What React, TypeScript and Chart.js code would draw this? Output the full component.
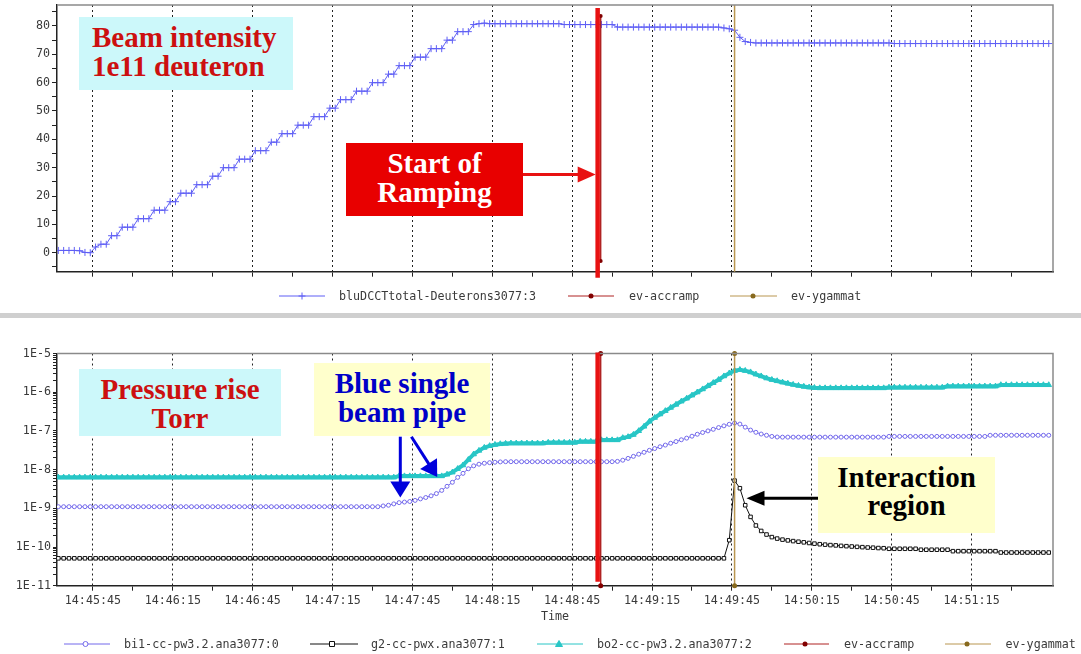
import React, { useEffect, useRef } from 'react';
import { Chart, registerables } from 'chart.js';

Chart.register(...registerables);

// ---------- time axis (seconds after 14:45:15) ----------
const T_START = 17;
const T_STEP = 2;
const X_MIN = 16.5;
const X_MAX = 390.6;
const X_TICK_FIRST = 30;
const X_TICK_SPACING = 30;
const X_TICK_LABELS = ['14:45:45', '14:46:15', '14:46:45', '14:47:15', '14:47:45', '14:48:15', '14:48:45', '14:49:15', '14:49:45', '14:50:15', '14:50:45', '14:51:15'];

// ---------- top chart: beam intensity (1e11 deuterons) ----------
const Y_TOP_MIN = -6.7;
const Y_TOP_MAX = 87.4;
const Y_TOP_TICKS = [-5, 0, 5, 10, 15, 20, 25, 30, 35, 40, 45, 50, 55, 60, 65, 70, 75, 80, 85];
const Y_TOP_LABELS = ['0', '10', '20', '30', '40', '50', '60', '70', '80'];

const BEAM_INTENSITY = [
  0.8, 0.8, 0.8, 0.8, 0.7, 0.1, 0.0,
  2, 3, 3, 6, 6, 9, 9, 9, 12, 12, 12, 15, 15, 15, 18, 18, 21, 21, 21, 24, 24, 24, 27, 27,
  30, 30, 30, 33, 33, 33, 36, 36, 36, 39, 39, 42, 42, 42, 45, 45, 45, 48, 48, 48, 51, 51,
  54, 54, 54, 57, 57, 57, 60, 60, 60, 63, 63, 66, 66, 66, 69, 69, 69, 72, 72, 72, 75, 75,
  78, 78, 78, 80.5, 80.8,
  81.0,
  80.8, 80.8, 80.8, 80.8, 80.8, 80.8, 80.8, 80.8, 80.8, 80.8, 80.8, 80.8, 80.8, 80.8,
  80.5, 80.5, 80.5, 80.5, 80.5, 80.5, 80.5, 80.5, 80.5, 80.5,
  79.6, 79.6, 79.6, 79.6, 79.6, 79.6, 79.6, 79.6, 79.6, 79.6,
  79.6, 79.6, 79.6, 79.6, 79.6, 79.6, 79.6, 79.6, 79.6, 79.6,
  79.3, 79.0, 78.5, 76.0, 74.5, 74.2,
  74.0, 74.0, 74.0, 74.0, 74.0, 74.0, 74.0, 74.0, 74.0, 74.0, 74.0, 74.0, 74.0,
  74.0, 74.0, 74.0, 74.0, 74.0, 74.0, 74.0, 74.0, 74.0, 74.0, 74.0, 74.0, 74.0,
  73.8, 73.8, 73.8, 73.8, 73.8, 73.8, 73.8, 73.8, 73.8, 73.8,
  73.8, 73.8, 73.8, 73.8, 73.8, 73.8, 73.8, 73.8, 73.8, 73.8,
  73.8, 73.8, 73.8, 73.8, 73.8, 73.8, 73.8, 73.8, 73.8, 73.8,
];

// ---------- bottom chart: pressures, in nTorr (1e-9 Torr) ----------
const Y_LOG_LABELS = ['1E-11', '1E-10', '1E-9', '1E-8', '1E-7', '1E-6', '1E-5'];
const Y_LOG_MIN_EXP = -11;
const Y_LOG_MAX_EXP = -5;
const NTORR = 1e-9;

const BI1_NTORR = [
  1.1, 1.1, 1.1, 1.1, 1.1, 1.1, 1.1, 1.1, 1.1, 1.1, 1.1, 1.1, 1.1, 1.1, 1.1, 1.1, 1.1, 1.1, 1.1, 1.1,
  1.1, 1.1, 1.1, 1.1, 1.1, 1.1, 1.1, 1.1, 1.1, 1.1, 1.1, 1.1, 1.1, 1.1, 1.1, 1.1, 1.1, 1.1, 1.1, 1.1,
  1.1, 1.1, 1.1, 1.1, 1.1, 1.1, 1.1, 1.1, 1.1, 1.1, 1.1, 1.1, 1.1, 1.1, 1.1, 1.1, 1.1, 1.1, 1.1, 1.1,
  1.1,
  1.15, 1.2, 1.3, 1.4, 1.45, 1.5, 1.6, 1.75, 1.9, 2.1, 2.4, 2.9, 3.7, 4.7, 6.3, 8.0, 10.5, 12.5, 13.8, 14.6,
  15.1, 15.5, 15.8,
  16, 16, 16, 16, 16, 16, 16, 16, 16, 16, 16, 16, 16, 16, 16, 16, 16, 16, 16, 16, 16,
  16.3, 17.5, 19.5, 22, 25, 28, 31.5, 35, 39, 43, 48, 53, 59, 65, 73, 82, 91, 100, 110, 122,
  135, 148, 160, 150, 125, 105, 92, 83, 77, 72, 69.5,
  69, 69, 69, 69, 69, 69, 69, 69, 69, 69, 69, 69, 69, 69, 69, 69, 69, 69, 69, 69,
  72, 72, 72, 72, 72, 72, 72, 72, 72, 72, 72, 72, 72, 72, 72, 72, 72, 72, 72,
  77, 77, 77, 77, 77, 77, 77, 77, 77, 77, 77, 77,
];

const G2_NTORR = [
  0.051, 0.051, 0.051, 0.051, 0.051, 0.051, 0.051, 0.051, 0.051, 0.051, 0.051, 0.051, 0.051, 0.051, 0.051, 0.051, 0.051, 0.051,
  0.051, 0.051, 0.051, 0.051, 0.051, 0.051, 0.051, 0.051, 0.051, 0.051, 0.051, 0.051, 0.051, 0.051, 0.051, 0.051, 0.051, 0.051,
  0.051, 0.051, 0.051, 0.051, 0.051, 0.051, 0.051, 0.051, 0.051, 0.051, 0.051, 0.051, 0.051, 0.051, 0.051, 0.051, 0.051, 0.051,
  0.051, 0.051, 0.051, 0.051, 0.051, 0.051, 0.051, 0.051, 0.051, 0.051, 0.051, 0.051, 0.051, 0.051, 0.051, 0.051, 0.051, 0.051,
  0.051, 0.051, 0.051, 0.051, 0.051, 0.051, 0.051, 0.051, 0.051, 0.051, 0.051, 0.051, 0.051, 0.051, 0.051, 0.051, 0.051, 0.051,
  0.051, 0.051, 0.051, 0.051, 0.051, 0.051, 0.051, 0.051, 0.051, 0.051, 0.051, 0.051, 0.051, 0.051, 0.051, 0.051, 0.051, 0.051,
  0.051, 0.051, 0.051, 0.051, 0.051, 0.051, 0.051, 0.051, 0.051, 0.051, 0.051, 0.051, 0.051, 0.051, 0.051, 0.051, 0.051, 0.051,
  0.15, 5.2, 3.3, 1.2, 0.6, 0.36, 0.26, 0.21, 0.18, 0.165, 0.155, 0.148, 0.142, 0.137, 0.132,
  0.127, 0.122, 0.118, 0.115, 0.112, 0.11, 0.107, 0.105, 0.103, 0.101, 0.099, 0.097, 0.096, 0.094, 0.093,
  0.09, 0.09, 0.09, 0.09, 0.09, 0.09,
  0.085, 0.085, 0.085, 0.085, 0.085, 0.085,
  0.078, 0.078, 0.078, 0.078, 0.078, 0.078, 0.078, 0.078, 0.078,
  0.072, 0.072, 0.072, 0.072, 0.072, 0.072, 0.072, 0.072, 0.072, 0.072,
];

const BO2_NTORR = [
  6.3, 6.3, 6.3, 6.3, 6.3, 6.3, 6.3, 6.3, 6.3, 6.3, 6.3, 6.3, 6.3, 6.3, 6.3, 6.3,
  6.3, 6.3, 6.3, 6.3, 6.3, 6.3, 6.3, 6.3, 6.3, 6.3, 6.3, 6.3, 6.3, 6.3, 6.3, 6.3,
  6.3, 6.3, 6.3, 6.3, 6.3, 6.3, 6.3, 6.3, 6.3, 6.3, 6.3, 6.3, 6.3, 6.3, 6.3, 6.3,
  6.3, 6.3, 6.3, 6.3, 6.3, 6.3, 6.3, 6.3, 6.3, 6.3, 6.3, 6.3, 6.3, 6.3, 6.3, 6.3,
  6.8, 6.8, 6.8, 6.8, 6.8, 6.8, 6.8, 6.8, 6.8,
  7.5, 8.5, 10.5, 13, 18, 25, 31, 37, 41, 44, 46, 47,
  48, 48, 48, 48, 48, 48, 48,
  50, 50, 50, 50, 50, 50,
  53, 53, 53, 53,
  58, 58, 58, 58,
  66, 70, 80, 100, 130, 175, 220, 270, 330, 400, 480, 580, 690, 830, 1000, 1200, 1450, 1750, 2100,
  2600, 3100, 3600, 3800, 3600, 3300, 2900, 2600, 2300, 2100, 1950, 1800, 1680, 1570, 1480, 1400, 1340, 1300,
  1280, 1280, 1280, 1280, 1280, 1280, 1280, 1280, 1280, 1280, 1280, 1280, 1280,
  1330, 1330, 1330, 1330, 1330, 1330, 1330, 1330, 1330, 1330, 1330,
  1420, 1420, 1420, 1420, 1420, 1420, 1420, 1420, 1420, 1420,
  1540, 1540, 1540, 1540, 1540, 1540, 1540, 1540, 1540, 1540,
];

// ---------- events ----------
const ACCRAMP_TIME = 220.7; // 14:48:55.7
const YGAMMAT_TIME = 271.0; // 14:49:46
const TOP_ACCRAMP_Y = [83.5, -2.9];
const TOP_YGAMMAT_Y = [95, -15];
const BOT_EVENT_Y = [1e-5, 1e-11];

// ---------- styles ----------
const MONO = { family: "'DejaVu Sans Mono', monospace", size: 11.7 };
const AXIS_COLOR = '#222';
const TEXT_COLOR = '#3a3a3a';
const DCCT_COLOR = 'rgb(95,95,245)';
const BI1_COLOR = 'rgb(115,105,235)';
const G2_COLOR = '#111';
const BO2_COLOR = 'rgb(40,198,198)';
const ACC_LINE = 'rgb(175,35,35)';
const ACC_DOT = 'rgb(130,0,0)';
const YG_LINE = 'rgb(185,150,80)';
const YG_DOT = 'rgb(135,105,30)';
const THICK_RED = 'rgb(232,18,18)';

const times = BEAM_INTENSITY.map((_, i) => T_START + i * T_STEP);
const toPoints = (vals: number[], scale = 1) => vals.map((v, i) => ({ x: times[i], y: v * scale }));

const isMajorX = (v: number) => Math.abs(((v - X_TICK_FIRST) % X_TICK_SPACING)) < 1e-9;
const X_TICK_VALUES: number[] = [];
X_TICK_LABELS.forEach((_, k) => {
  X_TICK_VALUES.push(X_TICK_FIRST + k * X_TICK_SPACING);
  X_TICK_VALUES.push(X_TICK_FIRST + k * X_TICK_SPACING + X_TICK_SPACING / 2);
});

const LOG_TICKS: number[] = [];
for (let e = Y_LOG_MIN_EXP; e < Y_LOG_MAX_EXP; e++) {
  for (let m = 1; m <= 9; m++) LOG_TICKS.push(m * Math.pow(10, e));
}
LOG_TICKS.push(Math.pow(10, Y_LOG_MAX_EXP));

function xScale(showLabels: boolean, height: number, title: string | null) {
  return {
    type: 'linear',
    min: X_MIN,
    max: X_MAX,
    afterBuildTicks: (scale: any) => {
      scale.ticks = X_TICK_VALUES.map((v) => ({ value: v }));
    },
    afterFit: (scale: any) => {
      scale.height = height;
      scale.paddingLeft = 0;
      scale.paddingRight = 0;
    },
    ticks: {
      display: showLabels,
      autoSkip: false,
      maxRotation: 0,
      minRotation: 0,
      padding: 3,
      font: MONO,
      color: TEXT_COLOR,
      callback: (v: number) => (isMajorX(v) ? X_TICK_LABELS[Math.round((v - X_TICK_FIRST) / X_TICK_SPACING)] : ''),
    },
    grid: {
      color: (ctx: any) => (ctx.tick && isMajorX(ctx.tick.value) ? AXIS_COLOR : 'rgba(0,0,0,0)'),
      tickColor: AXIS_COLOR,
      tickLength: 5,
      lineWidth: 1,
    },
    border: { color: AXIS_COLOR, width: 1.5, dash: [2, 3] },
    title: title
      ? { display: true, text: title, font: MONO, color: TEXT_COLOR, padding: { top: 0, bottom: 4 } }
      : { display: false },
  };
}

type LegendSpec = { ds: number; x1: number; x2: number; mx: number; tx: number; marker: string; line: string; stroke: string; fill: string };

function drawMarker(ctx: CanvasRenderingContext2D, kind: string, x: number, y: number, stroke: string, fill: string) {
  ctx.save();
  ctx.lineWidth = 1;
  ctx.strokeStyle = stroke;
  ctx.fillStyle = fill;
  ctx.beginPath();
  if (kind === 'cross') {
    ctx.moveTo(x - 3.5, y); ctx.lineTo(x + 3.5, y);
    ctx.moveTo(x, y - 3.5); ctx.lineTo(x, y + 3.5);
    ctx.stroke();
  } else if (kind === 'circle') {
    ctx.arc(x, y, 2.5, 0, Math.PI * 2);
    ctx.fill(); ctx.stroke();
  } else if (kind === 'rect') {
    ctx.rect(x - 2.5, y - 2.5, 5, 5);
    ctx.fill(); ctx.stroke();
  } else if (kind === 'triangle') {
    ctx.moveTo(x, y - 3.5); ctx.lineTo(x + 3.5, y + 2.5); ctx.lineTo(x - 3.5, y + 2.5); ctx.closePath();
    ctx.fill(); ctx.stroke();
  } else {
    ctx.arc(x, y, 2.5, 0, Math.PI * 2);
    ctx.fill();
  }
  ctx.restore();
}

function drawArrow(ctx: CanvasRenderingContext2D, x1: number, y1: number, x2: number, y2: number, head: number, half: number, color: string, lw: number) {
  const dx = x2 - x1, dy = y2 - y1;
  const len = Math.hypot(dx, dy);
  const ux = dx / len, uy = dy / len;
  const bx = x2 - ux * head, by = y2 - uy * head;
  ctx.save();
  ctx.strokeStyle = color;
  ctx.fillStyle = color;
  ctx.lineWidth = lw;
  ctx.beginPath();
  ctx.moveTo(x1, y1);
  ctx.lineTo(bx + ux * 1, by + uy * 1);
  ctx.stroke();
  ctx.beginPath();
  ctx.moveTo(x2, y2);
  ctx.lineTo(bx - uy * half, by + ux * half);
  ctx.lineTo(bx + uy * half, by - ux * half);
  ctx.closePath();
  ctx.fill();
  ctx.restore();
}

function decorPlugin(legend: LegendSpec[], legendY: number, redTop: number, redBottom: number, arrows: (chart: any, ctx: CanvasRenderingContext2D) => void) {
  return {
    id: 'decor',
    afterDraw(chart: any) {
      const { ctx, chartArea } = chart;
      const xs = chart.scales.x;
      ctx.save();
      // top & right frame
      ctx.strokeStyle = '#8a8a8a';
      ctx.lineWidth = 1.5;
      ctx.beginPath();
      ctx.moveTo(chartArea.left, chartArea.top);
      ctx.lineTo(chartArea.right, chartArea.top);
      ctx.lineTo(chartArea.right, chartArea.bottom);
      ctx.stroke();
      // thick red "start of ramping" marker
      const rx = xs.getPixelForValue(ACCRAMP_TIME) - 3;
      ctx.strokeStyle = THICK_RED;
      ctx.lineWidth = 4.5;
      ctx.beginPath();
      ctx.moveTo(rx, chartArea.top + redTop);
      ctx.lineTo(rx, chartArea.bottom + redBottom);
      ctx.stroke();
      ctx.restore();
      arrows(chart, ctx);
      // legend
      ctx.save();
      ctx.font = `${MONO.size}px ${MONO.family}`;
      ctx.textBaseline = 'middle';
      ctx.textAlign = 'left';
      legend.forEach((it) => {
        ctx.strokeStyle = it.line;
        ctx.lineWidth = 1;
        ctx.beginPath();
        ctx.moveTo(it.x1, legendY);
        ctx.lineTo(it.x2, legendY);
        ctx.stroke();
        drawMarker(ctx, it.marker, it.mx, legendY, it.stroke, it.fill);
        ctx.fillStyle = TEXT_COLOR;
        ctx.fillText(chart.data.datasets[it.ds].label, it.tx, legendY + 0.5);
      });
      ctx.restore();
    },
  };
}

const TOP_LEGEND: LegendSpec[] = [
  { ds: 0, x1: 279, x2: 325, mx: 302, tx: 339, marker: 'cross', line: DCCT_COLOR, stroke: DCCT_COLOR, fill: DCCT_COLOR },
  { ds: 1, x1: 568, x2: 614, mx: 591, tx: 629, marker: 'dot', line: ACC_LINE, stroke: ACC_DOT, fill: ACC_DOT },
  { ds: 2, x1: 730, x2: 777, mx: 753, tx: 791, marker: 'dot', line: YG_LINE, stroke: YG_DOT, fill: YG_DOT },
];

const BOT_LEGEND: LegendSpec[] = [
  { ds: 0, x1: 64, x2: 110, mx: 85.5, tx: 124, marker: 'circle', line: BI1_COLOR, stroke: BI1_COLOR, fill: '#fff' },
  { ds: 1, x1: 310, x2: 358, mx: 332, tx: 371, marker: 'rect', line: G2_COLOR, stroke: G2_COLOR, fill: '#fff' },
  { ds: 2, x1: 537, x2: 583, mx: 559, tx: 597, marker: 'triangle', line: BO2_COLOR, stroke: BO2_COLOR, fill: BO2_COLOR },
  { ds: 3, x1: 784, x2: 829, mx: 805, tx: 844, marker: 'dot', line: ACC_LINE, stroke: ACC_DOT, fill: ACC_DOT },
  { ds: 4, x1: 945, x2: 991, mx: 967, tx: 1005.5, marker: 'dot', line: YG_LINE, stroke: YG_DOT, fill: YG_DOT },
];

function eventDataset(label: string, time: number, ys: number[], line: string, dot: string, width: number, radius: number) {
  return {
    label,
    data: ys.map((y) => ({ x: time, y })),
    borderColor: line,
    borderWidth: width,
    pointStyle: 'circle',
    pointRadius: radius,
    pointBackgroundColor: dot,
    pointBorderColor: dot,
    pointBorderWidth: 0,
    clip: false,
    order: 0,
  };
}

function topConfig(): any {
  return {
    type: 'line',
    data: {
      datasets: [
        {
          label: 'bluDCCTtotal-Deuterons3077:3',
          data: toPoints(BEAM_INTENSITY),
          borderColor: DCCT_COLOR,
          borderWidth: 1,
          pointStyle: 'cross',
          pointRadius: 3.5,
          pointBorderWidth: 1,
          pointBorderColor: DCCT_COLOR,
          pointBackgroundColor: DCCT_COLOR,
          order: 1,
        },
        eventDataset('ev-accramp', ACCRAMP_TIME, TOP_ACCRAMP_Y, ACC_LINE, ACC_DOT, 1, 2),
        { ...eventDataset('ev-ygammat', YGAMMAT_TIME, TOP_YGAMMAT_Y, YG_LINE, YG_DOT, 1.5, 0), clip: 0 },
      ],
    },
    options: {
      animation: false,
      responsive: false,
      events: [],
      layout: { padding: { left: 0, right: 28, top: 4, bottom: 0 } },
      elements: { line: { tension: 0 } },
      plugins: { legend: { display: false }, tooltip: { enabled: false } },
      scales: {
        x: xScale(false, 41.3, null),
        y: {
          type: 'linear',
          min: Y_TOP_MIN,
          max: Y_TOP_MAX,
          afterBuildTicks: (scale: any) => {
            scale.ticks = Y_TOP_TICKS.map((v) => ({ value: v }));
          },
          afterFit: (scale: any) => {
            scale.width = 57;
            scale.paddingTop = 0;
            scale.paddingBottom = 0;
          },
          ticks: {
            autoSkip: false,
            padding: 2,
            font: MONO,
            color: TEXT_COLOR,
            callback: (v: number) => (Y_TOP_LABELS.includes(String(v)) ? String(v) : ''),
          },
          grid: { drawOnChartArea: false, tickColor: AXIS_COLOR, tickLength: 5 },
          border: { color: AXIS_COLOR, width: 1.5 },
        },
      },
    },
    plugins: [
      decorPlugin(TOP_LEGEND, 296, 3, 6, (chart, ctx) => {
        const tip = chart.scales.x.getPixelForValue(ACCRAMP_TIME) - 5;
        drawArrow(ctx, 523, 174.5, tip, 174.5, 18, 8, THICK_RED, 3);
      }),
    ],
  };
}

function botConfig(): any {
  return {
    type: 'line',
    data: {
      datasets: [
        {
          label: 'bi1-cc-pw3.2.ana3077:0',
          data: toPoints(BI1_NTORR, NTORR),
          borderColor: BI1_COLOR,
          borderWidth: 1,
          pointStyle: 'circle',
          pointRadius: 2,
          pointBorderWidth: 1,
          pointBorderColor: BI1_COLOR,
          pointBackgroundColor: '#fff',
          order: 2,
        },
        {
          label: 'g2-cc-pwx.ana3077:1',
          data: toPoints(G2_NTORR, NTORR),
          borderColor: G2_COLOR,
          borderWidth: 1,
          pointStyle: 'rect',
          pointRadius: 2.5,
          pointBorderWidth: 1,
          pointBorderColor: G2_COLOR,
          pointBackgroundColor: '#fff',
          order: 1,
        },
        {
          label: 'bo2-cc-pw3.2.ana3077:2',
          data: toPoints(BO2_NTORR, NTORR),
          borderColor: BO2_COLOR,
          borderWidth: 4,
          pointStyle: 'triangle',
          pointRadius: 3.2,
          pointBorderWidth: 1,
          pointBorderColor: BO2_COLOR,
          pointBackgroundColor: BO2_COLOR,
          order: 3,
        },
        eventDataset('ev-accramp', ACCRAMP_TIME, BOT_EVENT_Y, ACC_LINE, ACC_DOT, 1, 2.5),
        eventDataset('ev-ygammat', YGAMMAT_TIME, BOT_EVENT_Y, YG_LINE, YG_DOT, 1.5, 2.5),
      ],
    },
    options: {
      animation: false,
      responsive: false,
      events: [],
      layout: { padding: { left: 0, right: 28, top: 33.5, bottom: 25.8 } },
      elements: { line: { tension: 0 } },
      plugins: { legend: { display: false }, tooltip: { enabled: false } },
      scales: {
        x: xScale(true, 42.5, 'Time'),
        y: {
          type: 'logarithmic',
          min: Math.pow(10, Y_LOG_MIN_EXP),
          max: Math.pow(10, Y_LOG_MAX_EXP),
          afterBuildTicks: (scale: any) => {
            scale.ticks = LOG_TICKS.map((v) => ({ value: v }));
          },
          afterFit: (scale: any) => {
            scale.width = 57;
            scale.paddingTop = 0;
            scale.paddingBottom = 0;
          },
          ticks: {
            autoSkip: false,
            padding: 2,
            font: MONO,
            color: TEXT_COLOR,
            callback: (v: number) => {
              const e = Math.log10(v);
              const r = Math.round(e);
              return Math.abs(e - r) < 1e-6 ? Y_LOG_LABELS[r - Y_LOG_MIN_EXP] : '';
            },
          },
          grid: { drawOnChartArea: false, tickColor: AXIS_COLOR, tickLength: 4 },
          border: { color: AXIS_COLOR, width: 1.5 },
        },
      },
    },
    plugins: [
      decorPlugin(BOT_LEGEND, 324, -1, -4, (_chart, ctx) => {
        drawArrow(ctx, 400.3, 116.7, 400.3, 177.5, 16, 10, 'rgb(0,0,220)', 3);
        drawArrow(ctx, 411.4, 116.7, 437.2, 157, 16, 10, 'rgb(0,0,220)', 3);
        drawArrow(ctx, 818, 178.3, 746.5, 178.3, 18, 7.5, '#000', 3);
      }),
    ],
  };
}

const BOXES = [
  { left: 79, top: 17, w: 214, h: 73, bg: 'rgb(204,248,250)', color: 'rgb(204,16,16)', align: 'left', padL: 13, padT: 6, lh: 28.5, lines: ['Beam intensity', '1e11 deuteron'] },
  { left: 346, top: 143, w: 177, h: 73, bg: 'rgb(232,0,0)', color: '#fff', align: 'center', padL: 0, padT: 6, lh: 28.5, lines: ['Start of', 'Ramping'] },
  { left: 79, top: 369, w: 202, h: 67, bg: 'rgb(204,248,250)', color: 'rgb(204,16,16)', align: 'center', padL: 0, padT: 5.5, lh: 29, lines: ['Pressure rise', 'Torr'] },
  { left: 314, top: 363, w: 176, h: 73, bg: 'rgb(255,255,204)', color: 'rgb(0,0,200)', align: 'center', padL: 0, padT: 6, lh: 28.5, lines: ['Blue single', 'beam pipe'] },
  { left: 818, top: 457, w: 177, h: 76, bg: 'rgb(255,255,204)', color: '#000', align: 'center', padL: 0, padT: 6, lh: 28, lines: ['Interaction', 'region'] },
];

export default function App() {
  const topRef = useRef<HTMLCanvasElement>(null);
  const botRef = useRef<HTMLCanvasElement>(null);

  useEffect(() => {
    const c1 = new Chart(topRef.current as HTMLCanvasElement, topConfig());
    const c2 = new Chart(botRef.current as HTMLCanvasElement, botConfig());
    return () => {
      c1.destroy();
      c2.destroy();
    };
  }, []);

  return (
    <div style={{ position: 'absolute', left: 0, top: 0, width: 1081, height: 654, background: '#fff', overflow: 'hidden' }}>
      <canvas ref={topRef} width={1081} height={313} style={{ position: 'absolute', left: 0, top: 0 }} />
      <div style={{ position: 'absolute', left: 0, top: 313, width: 1081, height: 5, background: '#cfcfcf' }} />
      <canvas ref={botRef} width={1081} height={334} style={{ position: 'absolute', left: 0, top: 320 }} />
      {BOXES.map((b, k) => (
        <div
          key={k}
          style={{
            position: 'absolute',
            left: b.left,
            top: b.top,
            width: b.w,
            height: b.h,
            background: b.bg,
            color: b.color,
            fontFamily: "'Liberation Serif', 'Times New Roman', serif",
            fontWeight: 700,
            fontSize: 29,
            lineHeight: `${b.lh}px`,
            textAlign: b.align as any,
            paddingTop: b.padT,
            paddingLeft: b.padL,
            boxSizing: 'border-box',
            whiteSpace: 'nowrap',
          }}
        >
          {b.lines.map((l, j) => (
            <div key={j}>{l}</div>
          ))}
        </div>
      ))}
    </div>
  );
}
